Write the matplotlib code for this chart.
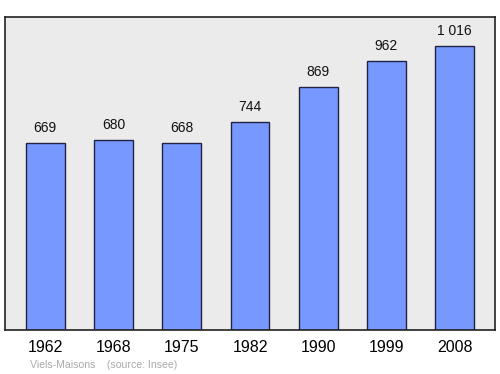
import matplotlib
matplotlib.use("Agg")
import matplotlib.pyplot as plt

years = ["1962", "1968", "1975", "1982", "1990", "1999", "2008"]
population = [669, 680, 668, 744, 869, 962, 1016]
value_labels = ["669", "680", "668", "744", "869", "962", "1 016"]

plt.rcParams['font.family'] = ['Liberation Sans', 'DejaVu Sans']

fig = plt.figure(figsize=(5.0, 3.74), dpi=100)
W, H = 500, 374
left, right, top, bottom = 5, 495, 17, 330
ax = fig.add_axes([left / W, 1 - bottom / H, (right - left) / W, (bottom - top) / H])
ax.set_facecolor("#ebebeb")
for s in ax.spines.values():
    s.set_color("#222222")
    s.set_linewidth(1.2)

x = list(range(len(years)))
ax.bar(x, population, width=0.57, color="#7799ff", edgecolor="#222244", linewidth=1.0)
ax.set_xlim(-0.59, len(years) - 1 + 0.59)
ax.set_ylim(0, 1120)
ax.set_yticks([])
ax.set_xticks(x)
ax.set_xticklabels(years, fontsize=11.5)
ax.tick_params(axis="x", length=0, pad=7)

for xi, v, lab in zip(x, population, value_labels):
    ax.annotate(lab, (xi, v), xytext=(0, 6), textcoords="offset points",
                ha="center", va="bottom", fontsize=10, color="#111111")

fig.text(30 / W, 1 - 365 / H, "Viels-Maisons    (source: Insee)", fontsize=7.6,
         color="#aaaaaa", ha="left", va="center")

fig.savefig("out.png", dpi=100)
